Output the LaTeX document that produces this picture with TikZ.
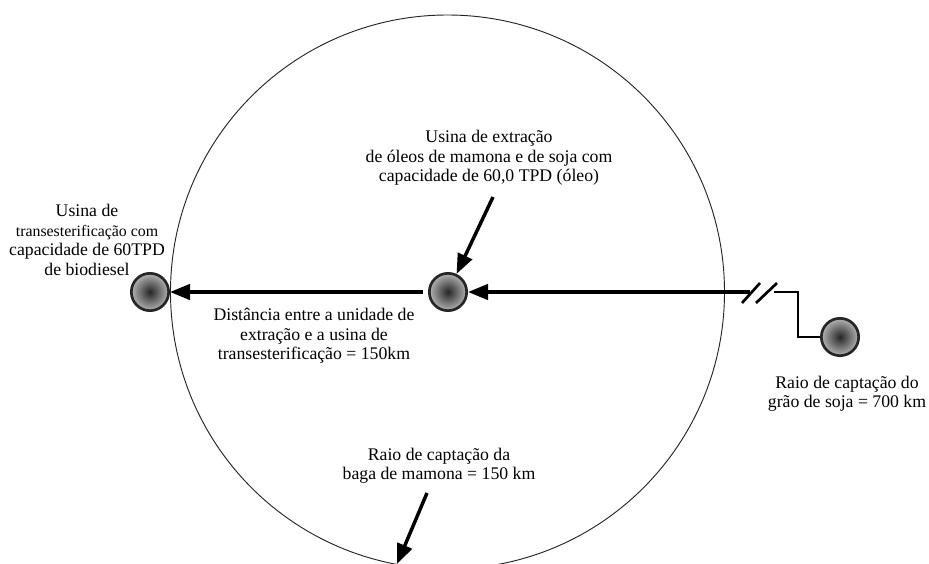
\documentclass[tikz,border=0pt]{standalone}
\usepackage{fontspec}
\setmainfont{Liberation Serif}
\usetikzlibrary{arrows.meta}
\begin{document}
\begin{tikzpicture}[x=0.75pt,y=-0.75pt,
  plant/.style={circle, minimum size=28pt, inner sep=0pt, draw=black!85, line width=2pt,
    inner color=black!85, outer color=black!30},
  label/.style={align=center, inner sep=0pt, font=\fontsize{13.3}{14.6}\selectfont},
  flow/.style={line width=2.6pt, -{Triangle[length=15pt,width=11.5pt]}},
  wire/.style={line width=2pt},
  boundary/.style={line width=0.7pt, draw=black!85}]
\useasboundingbox (0,0) rectangle (929,564);
\clip (0,0) rectangle (929,564);
\draw[boundary] (447.5,292) circle[radius=277*0.75pt];
\node[plant] (left) at (150,292) {};
\node[plant] (mid) at (448,292) {};
\node[plant] (soy) at (840,337) {};
\coordinate (w1) at (798,337);
\coordinate (w2) at (798,292);
\coordinate (w3) at (774,292);
\coordinate (w4) at (750,292);
\coordinate (s1a) at (742,303); \coordinate (s1b) at (760,283);
\coordinate (s2a) at (756,303); \coordinate (s2b) at (777,283);
\coordinate (d1) at (493,197);
\coordinate (b1) at (427,493);
\coordinate (b2) at (397,564);
\draw[wire] (soy.west) -- (w1) -- (w2) -- (w3);
\draw[wire] (s1a) -- (s1b);
\draw[wire] (s2a) -- (s2b);
\draw[flow] (w4) -- (mid.east);
\draw[flow, shorten <=4pt] (mid.west) -- (left.east);
\draw[flow] (d1) -- (mid);
\draw[flow] (b1) -- (b2);
\node[label] (tmid) at (489,158) {Usina de extração\\de óleos de mamona e de soja com\\capacidade de 60,0 TPD (óleo)};
\node[label] (tleft) at (87,240) {Usina de\\{\fontsize{11.9}{13.5}\selectfont transesterificação com}\\capacidade de 60TPD\\de biodiesel};
\node[label] (tdist) at (314,336) {Distância entre a unidade de\\extração e a usina de\\transesterificação = 150km};
\node[label] (tsoy) at (847,394) {Raio de captação do\\grão de soja = 700 km};
\node[label] (tcas) at (439,466) {Raio de captação da\\baga de mamona = 150 km};
\end{tikzpicture}
\end{document}
